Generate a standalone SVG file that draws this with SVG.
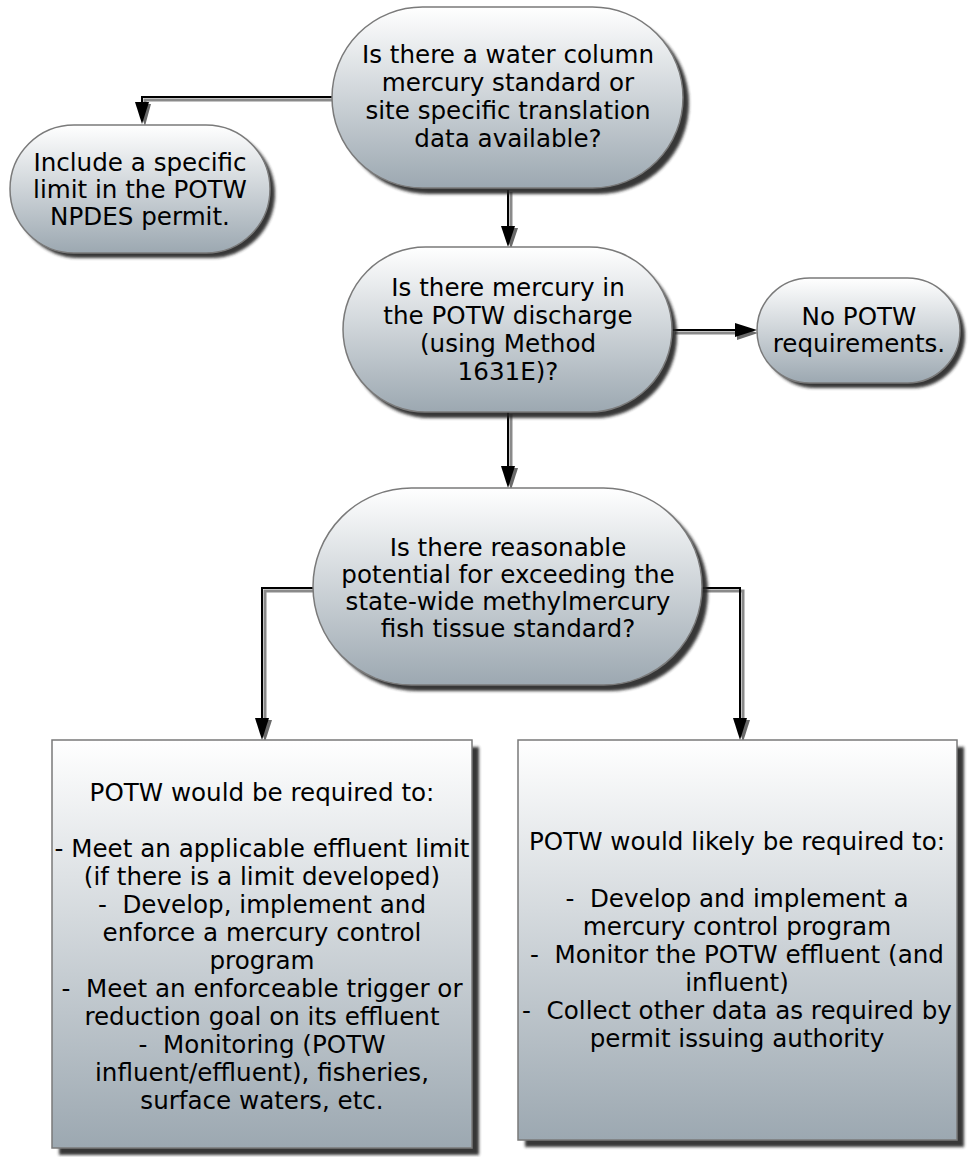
<svg xmlns="http://www.w3.org/2000/svg" width="969" height="1157" viewBox="0 0 969 1157">
<defs>
<linearGradient id="g" x1="0" y1="0" x2="0" y2="1">
<stop offset="0" stop-color="#ffffff"/>
<stop offset="1" stop-color="#9ca8b1"/>
</linearGradient>
<filter id="blur" x="-10%" y="-10%" width="120%" height="120%">
<feGaussianBlur stdDeviation="1.6"/>
</filter>
</defs>
<style>
.shape{fill:url(#g);stroke:#7a7a7a;stroke-width:1.5}
.sh{fill:#222;filter:url(#blur);opacity:0.9}
.t{font-family:"DejaVu Sans",Verdana,sans-serif;font-size:24.6px;fill:#000;text-anchor:middle;white-space:pre}
.ln{fill:none;stroke:#000;stroke-width:2}
.lns{fill:none;stroke:#8a8a8a;stroke-width:3}
.hd{fill:#000}
.hds{fill:#6a6a6a}
</style>
<g id="connectors">
<polyline class="lns" points="332,100 145,100 145,105"/>
<polyline class="ln" points="332,97 142,97 142,104"/>
<polygon class="hds" points="137,104 151,104 145,126"/>
<polygon class="hd" points="135,102 149,102 142,124"/>
<line class="lns" x1="511" y1="192" x2="511" y2="228"/>
<line class="ln" x1="508" y1="190" x2="508" y2="228"/>
<polygon class="hds" points="504,228 518,228 511,249"/>
<polygon class="hd" points="501,226 515,226 508,247"/>
<line class="lns" x1="511" y1="414" x2="511" y2="468"/>
<line class="ln" x1="508" y1="412" x2="508" y2="468"/>
<polygon class="hds" points="504,468 518,468 511,490"/>
<polygon class="hd" points="501,466 515,466 508,488"/>
<line class="lns" x1="675" y1="333" x2="736" y2="333"/>
<line class="ln" x1="672" y1="330" x2="737" y2="330"/>
<polygon class="hds" points="737,326 737,340 758,333"/>
<polygon class="hd" points="735,323 735,337 757,330"/>
<polyline class="lns" points="313,591 265,591 265,720"/>
<polyline class="ln" points="313,588 262,588 262,720"/>
<polygon class="hds" points="258,720 272,720 265,742"/>
<polygon class="hd" points="255,718 269,718 262,740"/>
<polyline class="lns" points="702,591 743,591 743,720"/>
<polyline class="ln" points="702,588 740,588 740,720"/>
<polygon class="hds" points="736,720 750,720 743,742"/>
<polygon class="hd" points="733,718 747,718 740,740"/>
</g>
<g id="n1">
<rect class="sh" x="338" y="13" width="351" height="181" rx="90.5"/>
<rect class="shape" x="332" y="7" width="351" height="181" rx="90.5"/>
<text class="t" x="508" y="63">Is there a water column</text>
<text class="t" x="508" y="91">mercury standard or</text>
<text class="t" x="508" y="119">site specific translation</text>
<text class="t" x="508" y="147">data available?</text>
</g>
<g id="n2">
<rect class="sh" x="15" y="130" width="260" height="128" rx="64"/>
<rect class="shape" x="10" y="125" width="260" height="128" rx="64"/>
<text class="t" x="140" y="171">Include a specific</text>
<text class="t" x="140" y="198">limit in the POTW</text>
<text class="t" x="140" y="225">NPDES permit.</text>
</g>
<g id="n3">
<rect class="sh" x="348" y="253" width="329" height="165" rx="82.5"/>
<rect class="shape" x="343" y="247" width="329" height="165" rx="82.5"/>
<text class="t" x="508" y="296">Is there mercury in</text>
<text class="t" x="508" y="324">the POTW discharge</text>
<text class="t" x="508" y="352">(using Method</text>
<text class="t" x="508" y="380">1631E)?</text>
</g>
<g id="n4">
<rect class="sh" x="762" y="283" width="203" height="105" rx="52.5"/>
<rect class="shape" x="757" y="278" width="203" height="105" rx="52.5"/>
<text class="t" x="859" y="325">No POTW</text>
<text class="t" x="859" y="352">requirements.</text>
</g>
<g id="n5">
<rect class="sh" x="319" y="494" width="389" height="197" rx="98.5"/>
<rect class="shape" x="313" y="488" width="389" height="197" rx="98.5"/>
<text class="t" x="508" y="556">Is there reasonable</text>
<text class="t" x="508" y="583">potential for exceeding the</text>
<text class="t" x="508" y="610">state-wide methylmercury</text>
<text class="t" x="508" y="637">fish tissue standard?</text>
</g>
<g id="n6">
<rect class="sh" x="59" y="747" width="420" height="408"/>
<rect class="shape" x="52" y="740" width="420" height="408"/>
<text class="t" x="262" y="801">POTW would be required to:</text>
<text class="t" x="262" y="857">- Meet an applicable effluent limit</text>
<text class="t" x="262" y="885">(if there is a limit developed)</text>
<text class="t" x="262" y="913">-  Develop, implement and</text>
<text class="t" x="262" y="941">enforce a mercury control</text>
<text class="t" x="262" y="969">program</text>
<text class="t" x="262" y="997">-  Meet an enforceable trigger or</text>
<text class="t" x="262" y="1025">reduction goal on its effluent</text>
<text class="t" x="262" y="1053">-  Monitoring (POTW</text>
<text class="t" x="262" y="1081">influent/effluent), fisheries,</text>
<text class="t" x="262" y="1109">surface waters, etc.</text>
</g>
<g id="n7">
<rect class="sh" x="525" y="747" width="439" height="400"/>
<rect class="shape" x="518" y="740" width="439" height="400"/>
<text class="t" x="737" y="850">POTW would likely be required to:</text>
<text class="t" x="737" y="907">-  Develop and implement a</text>
<text class="t" x="737" y="935">mercury control program</text>
<text class="t" x="737" y="963">-  Monitor the POTW effluent (and</text>
<text class="t" x="737" y="991">influent)</text>
<text class="t" x="737" y="1019">-  Collect other data as required by</text>
<text class="t" x="737" y="1047">permit issuing authority</text>
</g>
</svg>
